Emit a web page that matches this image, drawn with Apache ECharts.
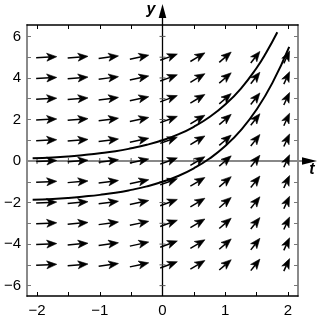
<!DOCTYPE html>
<html>
<head>
<meta charset="UTF-8">
<title>Direction field</title>
<script src="https://cdn.jsdelivr.net/npm/echarts@6/dist/echarts.min.js"></script>
<style>
  html, body { margin: 0; padding: 0; background: #fff; }
  #chart { width: 325px; height: 322px; }
</style>
</head>
<body>
<div id="chart"></div>
<script>
// arrow columns (t at arrow centre), their slopes dy/dt, and arrow rows
var fieldT = [-1.85, -1.35, -0.86, -0.37, 0.1, 0.56, 1.0, 1.48, 1.98];
var fieldSlope = [0.15, 0.25, 0.4, 0.65, 1.1, 1.8, 2.6, 3.8, 6.5];
var fieldY = [-5, -4, -3, -2, -1, 0, 1, 2, 3, 4, 5];

// the two solution curves
var upperT = [-2.07, -1.75, -1.5, -1.25, -1, -0.75, -0.5, -0.25, 0, 0.25, 0.5, 0.75, 1, 1.25, 1.5, 1.65, 1.83];
var upperY = [0.13, 0.17, 0.22, 0.29, 0.37, 0.47, 0.61, 0.78, 1.0, 1.28, 1.65, 2.12, 2.72, 3.49, 4.48, 5.2, 6.2];
var lowerT = [-2.07, -1.75, -1.5, -1.25, -1, -0.75, -0.5, -0.25, 0, 0.25, 0.5, 0.75, 1, 1.25, 1.5, 1.75, 2.02];
var lowerY = [-1.87, -1.83, -1.78, -1.71, -1.63, -1.53, -1.39, -1.22, -1.0, -0.72, -0.35, 0.12, 0.72, 1.49, 2.48, 3.75, 5.5];

// ticks and labels
var xTicks = [-2, -1.5, -1, -0.5, 0, 0.5, 1, 1.5, 2];
var xLabels = [-2, -1, 0, 1, 2];
var yTicks = [-6, -5, -4, -3, -2, -1, 0, 1, 2, 3, 4, 5, 6];
var yLabels = [-6, -4, -2, 0, 2, 4, 6];

var fieldData = [];
fieldT.forEach(function (t, i) {
    fieldY.forEach(function (y) {
        fieldData.push([t, y, fieldSlope[i]]);
    });
});

function zip(a, b) {
    return a.map(function (v, i) { return [v, b[i]]; });
}

function minus(v) {
    return v < 0 ? '\u2212' + (-v) : String(v);
}

var FONT = '"Liberation Sans", Arial, sans-serif';

function renderArrow(params, api) {
    var t = api.value(0), y = api.value(1), s = api.value(2);
    var c = api.coord([t, y]);
    var c2 = api.coord([t + 0.1, y + 0.1 * s]);
    var dx = c2[0] - c[0], dy = c2[1] - c[1];
    var n = Math.sqrt(dx * dx + dy * dy);
    var ux = dx / n, uy = dy / n;
    var L = 21 - 8 * Math.abs(uy);
    var tail = [c[0] - ux * L / 2, c[1] - uy * L / 2];
    var tip = [c[0] + ux * L / 2, c[1] + uy * L / 2];
    var hl = 10, hw = 4;
    var base = [tip[0] - ux * hl, tip[1] - uy * hl];
    var notch = [tip[0] - ux * (hl - 2.5), tip[1] - uy * (hl - 2.5)];
    return {
        type: 'group',
        children: [{
            type: 'line',
            shape: { x1: tail[0], y1: tail[1], x2: notch[0], y2: notch[1] },
            style: { stroke: '#000', lineWidth: 1.5 }
        }, {
            type: 'polygon',
            shape: {
                points: [tip, [base[0] - uy * hw, base[1] + ux * hw], notch,
                         [base[0] + uy * hw, base[1] - ux * hw]]
            },
            style: { fill: '#000', stroke: '#000', lineWidth: 0.6 }
        }]
    };
}

function renderAxes(params, api) {
    var o = api.coord([0, 0]);
    var bottom = api.coord([0, -6.5])[1];
    var left = api.coord([-2.16, 0])[0];
    var kids = [];
    // t axis
    kids.push({ type: 'line', shape: { x1: left, y1: o[1], x2: 305, y2: o[1] },
        style: { stroke: '#888', lineWidth: 2 } });
    kids.push({ type: 'polygon', shape: { points: [[317, o[1]], [302, o[1] - 3.8], [302, o[1] + 3.8]] },
        style: { fill: '#000' } });
    // y axis
    kids.push({ type: 'line', shape: { x1: o[0], y1: bottom, x2: o[0], y2: 14 },
        style: { stroke: '#000', lineWidth: 1.3 } });
    kids.push({ type: 'polygon', shape: { points: [[o[0], 4], [o[0] - 3.8, 18], [o[0] + 3.8, 18]] },
        style: { fill: '#000' } });
    xTicks.forEach(function (v) {
        if (v === 0) return;
        var p = api.coord([v, 0]);
        kids.push({ type: 'line', shape: { x1: p[0], y1: p[1] - 3, x2: p[0], y2: p[1] + 3 },
            style: { stroke: '#555', lineWidth: 1 } });
    });
    yTicks.forEach(function (v) {
        if (v === 0) return;
        var p = api.coord([0, v]);
        kids.push({ type: 'line', shape: { x1: p[0] - 3, y1: p[1], x2: p[0] + 3, y2: p[1] },
            style: { stroke: '#555', lineWidth: 1 } });
    });
    kids.push({ type: 'text', x: o[0] - 7, y: 10,
        style: { text: 'y', font: 'italic bold 16px ' + FONT, fill: '#000', align: 'right', verticalAlign: 'middle' } });
    kids.push({ type: 'text', x: 312, y: 170,
        style: { text: 't', font: 'italic bold 16px ' + FONT, fill: '#000', align: 'center', verticalAlign: 'middle' } });
    return { type: 'group', children: kids };
}

var chart = echarts.init(document.getElementById('chart'));

var xBase = {
    type: 'value', min: -2.16, max: 2.16,
    splitLine: { show: false },
    axisLine: { onZero: false, lineStyle: { color: '#000', width: 1.5 } },
    axisTick: { inside: true, length: 4, customValues: xTicks, lineStyle: { color: '#000' } }
};
var yBase = {
    type: 'value', min: -6.5, max: 6.55,
    splitLine: { show: false },
    axisLine: { onZero: false, lineStyle: { color: '#8a8a8a', width: 2 } },
    axisTick: { inside: true, length: 4, customValues: yTicks, lineStyle: { color: '#777' } }
};

chart.setOption({
    animation: false,
    backgroundColor: '#fff',
    grid: { left: 27, right: 27, top: 25, bottom: 26 },
    xAxis: [
        Object.assign({}, xBase, {
            position: 'bottom',
            axisLabel: { customValues: xLabels, margin: 7, fontSize: 15, color: '#000',
                fontFamily: FONT, formatter: minus }
        }),
        Object.assign({}, xBase, { position: 'top', axisLabel: { show: false } })
    ],
    yAxis: [
        Object.assign({}, yBase, {
            position: 'left',
            axisLabel: { customValues: yLabels, margin: 6, fontSize: 15, color: '#000',
                fontFamily: FONT, formatter: minus }
        }),
        Object.assign({}, yBase, { position: 'right', axisLabel: { show: false } })
    ],
    series: [{
        type: 'custom',
        renderItem: renderAxes,
        data: [[0, 0]],
        clip: false,
        silent: true,
        z: 1
    }, {
        type: 'custom',
        renderItem: renderArrow,
        data: fieldData,
        silent: true,
        z: 2
    }, {
        type: 'line',
        data: zip(upperT, upperY),
        smooth: true,
        showSymbol: false,
        lineStyle: { color: '#000', width: 2 },
        z: 3
    }, {
        type: 'line',
        data: zip(lowerT, lowerY),
        smooth: true,
        showSymbol: false,
        lineStyle: { color: '#000', width: 2 },
        z: 3
    }]
});
</script>
</body>
</html>
